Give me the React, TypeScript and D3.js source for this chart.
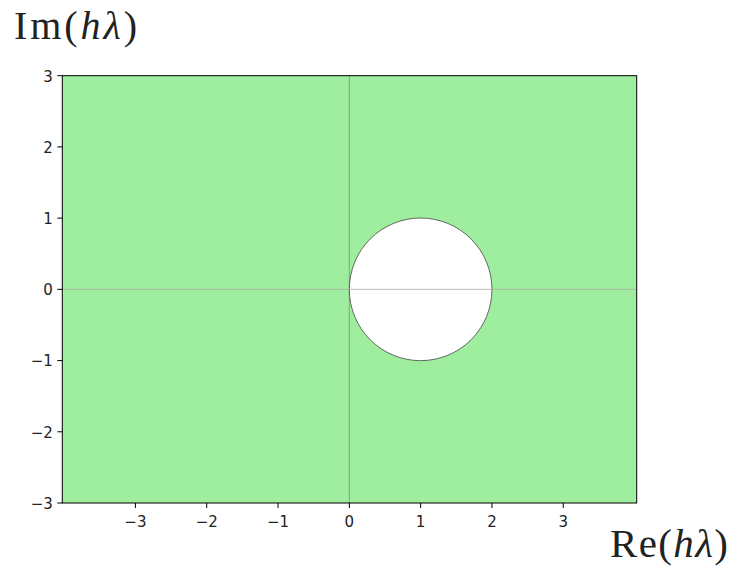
import React from "react";
import * as d3 from "d3";

const xTicks = [-3, -2, -1, 0, 1, 2, 3];
const yTicks = [-3, -2, -1, 0, 1, 2, 3];
const xDomain = [-4.025, 4.03];
const yDomain = [-3, 3];
const circleCenter = [1, 0];
const circleRadius = [1];

export default function App() {
  const W = 736, H = 567;
  const left = 62.3, right = 636.7, top = 75.7, bottom = 503;
  const x = d3.scaleLinear().domain(xDomain).range([left, right]);
  const y = d3.scaleLinear().domain(yDomain).range([bottom, top]);
  const cx = x(circleCenter[0]);
  const cy = y(circleCenter[1]);
  const r = x(circleCenter[0] + circleRadius[0]) - cx;
  const fmt = (v: number) => (v < 0 ? "\u2212" + Math.abs(v) : String(v));
  return (
    <svg width={W} height={H} style={{ position: "absolute", left: 0, top: 0 }}>
      <rect x={0} y={0} width={W} height={H} fill="#fff" />
      <rect x={left} y={top} width={right - left} height={bottom - top} fill="#9fee9f" />
      <line x1={x(0)} x2={x(0)} y1={top} y2={bottom} stroke="#888" strokeWidth={0.8} />
      <circle cx={cx} cy={cy} r={r} fill="#fff" stroke="#444" strokeWidth={0.8} />
      <line x1={left} x2={right} y1={y(0)} y2={y(0)} stroke="#aaa" strokeWidth={0.8} />
      <rect x={left} y={top} width={right - left} height={bottom - top} fill="none" stroke="#000" strokeWidth={1} />
      {xTicks.map((t) => (
        <g key={"x" + t}>
          <line x1={x(t)} x2={x(t)} y1={bottom} y2={bottom + 5} stroke="#000" strokeWidth={1} />
          <text x={x(t)} y={bottom + 23.5} textAnchor="middle" fontFamily="DejaVu Sans" fontSize={15} fill="#222">
            {fmt(t)}
          </text>
        </g>
      ))}
      {yTicks.map((t) => (
        <g key={"y" + t}>
          <line x1={left - 5} x2={left} y1={y(t)} y2={y(t)} stroke="#000" strokeWidth={1} />
          <text x={left - 9.5} y={y(t) + 5.8} textAnchor="end" fontFamily="DejaVu Sans" fontSize={15} fill="#222">
            {fmt(t)}
          </text>
        </g>
      ))}
      <text x={14} y={39} fontFamily="Liberation Serif" fontSize={40} fill="#222" textLength={123} lengthAdjust="spacing">
        Im(<tspan fontStyle="italic">hλ</tspan>)
      </text>
      <text x={610} y={556.5} fontFamily="Liberation Serif" fontSize={41} fill="#222" textLength={118} lengthAdjust="spacing">
        Re(<tspan fontStyle="italic">hλ</tspan>)
      </text>
    </svg>
  );
}
